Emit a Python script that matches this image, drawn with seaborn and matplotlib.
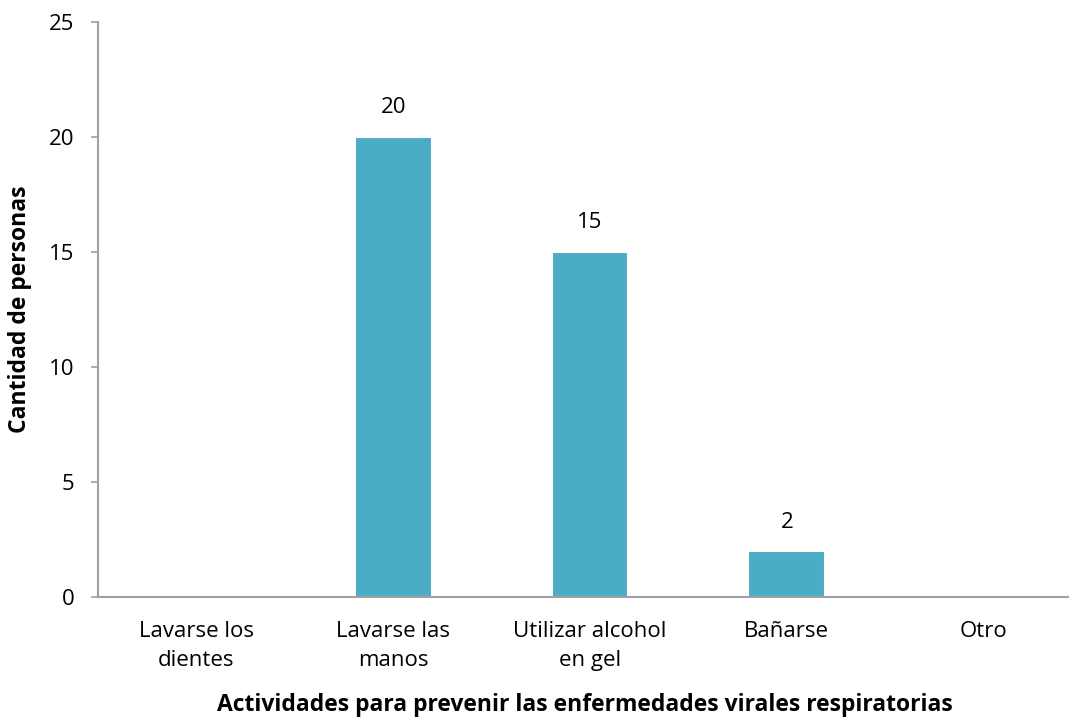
import matplotlib
matplotlib.use("Agg")
import matplotlib.pyplot as plt
import seaborn as sns
import pandas as pd

categories = ["Lavarse los\ndientes", "Lavarse las\nmanos", "Utilizar alcohol\nen gel", "Bañarse", "Otro"]
values = [0, 20, 15, 2, 0]
y_ticks = [0, 5, 10, 15, 20, 25]

sns.set_theme(style="white")
plt.rcParams['font.family'] = ['Open Sans', 'DejaVu Sans']
plt.rcParams['text.color'] = 'black'
plt.rcParams['axes.labelcolor'] = 'black'
plt.rcParams['xtick.color'] = 'black'
plt.rcParams['ytick.color'] = 'black'

df = pd.DataFrame({"cat": categories, "val": values})

fig = plt.figure(figsize=(10.69, 7.23), dpi=100)
ax = fig.add_axes([0.0917, 0.174, 0.9205, 0.796])
sns.barplot(data=df, x="cat", y="val", color="#4BACC6", saturation=1, width=0.39,
            edgecolor="white", linewidth=1.5, ax=ax)

for i, v in enumerate(values):
    if v > 0:
        ax.text(i, v + 0.8, str(v), ha="center", va="bottom", fontsize=16, color="black")

ax.set_ylim(0, 25)
ax.set_xlim(-0.5, 4.5)
ax.set_yticks(y_ticks)
ax.tick_params(axis="y", labelsize=16, length=5, width=1.2, color="#a0a0a0", direction="out", left=True, pad=12)
ax.tick_params(axis="x", labelsize=16, length=0, pad=17)
for lbl in ax.get_xticklabels():
    lbl.set_linespacing(1.5)
for s in ["top", "right"]:
    ax.spines[s].set_visible(False)
for s in ["left", "bottom"]:
    ax.spines[s].set_color("#a0a0a0")
    ax.spines[s].set_linewidth(1.5)
ax.set_ylabel("Cantidad de personas", fontsize=16.5, fontweight="bold", labelpad=12)
ax.set_xlabel("Actividades para prevenir las enfermedades virales respiratorias", fontsize=16.5, fontweight="bold")
ax.xaxis.set_label_coords((585 - 98) / (1082 - 98), -0.166)

fig.savefig("out.png", dpi=100)
